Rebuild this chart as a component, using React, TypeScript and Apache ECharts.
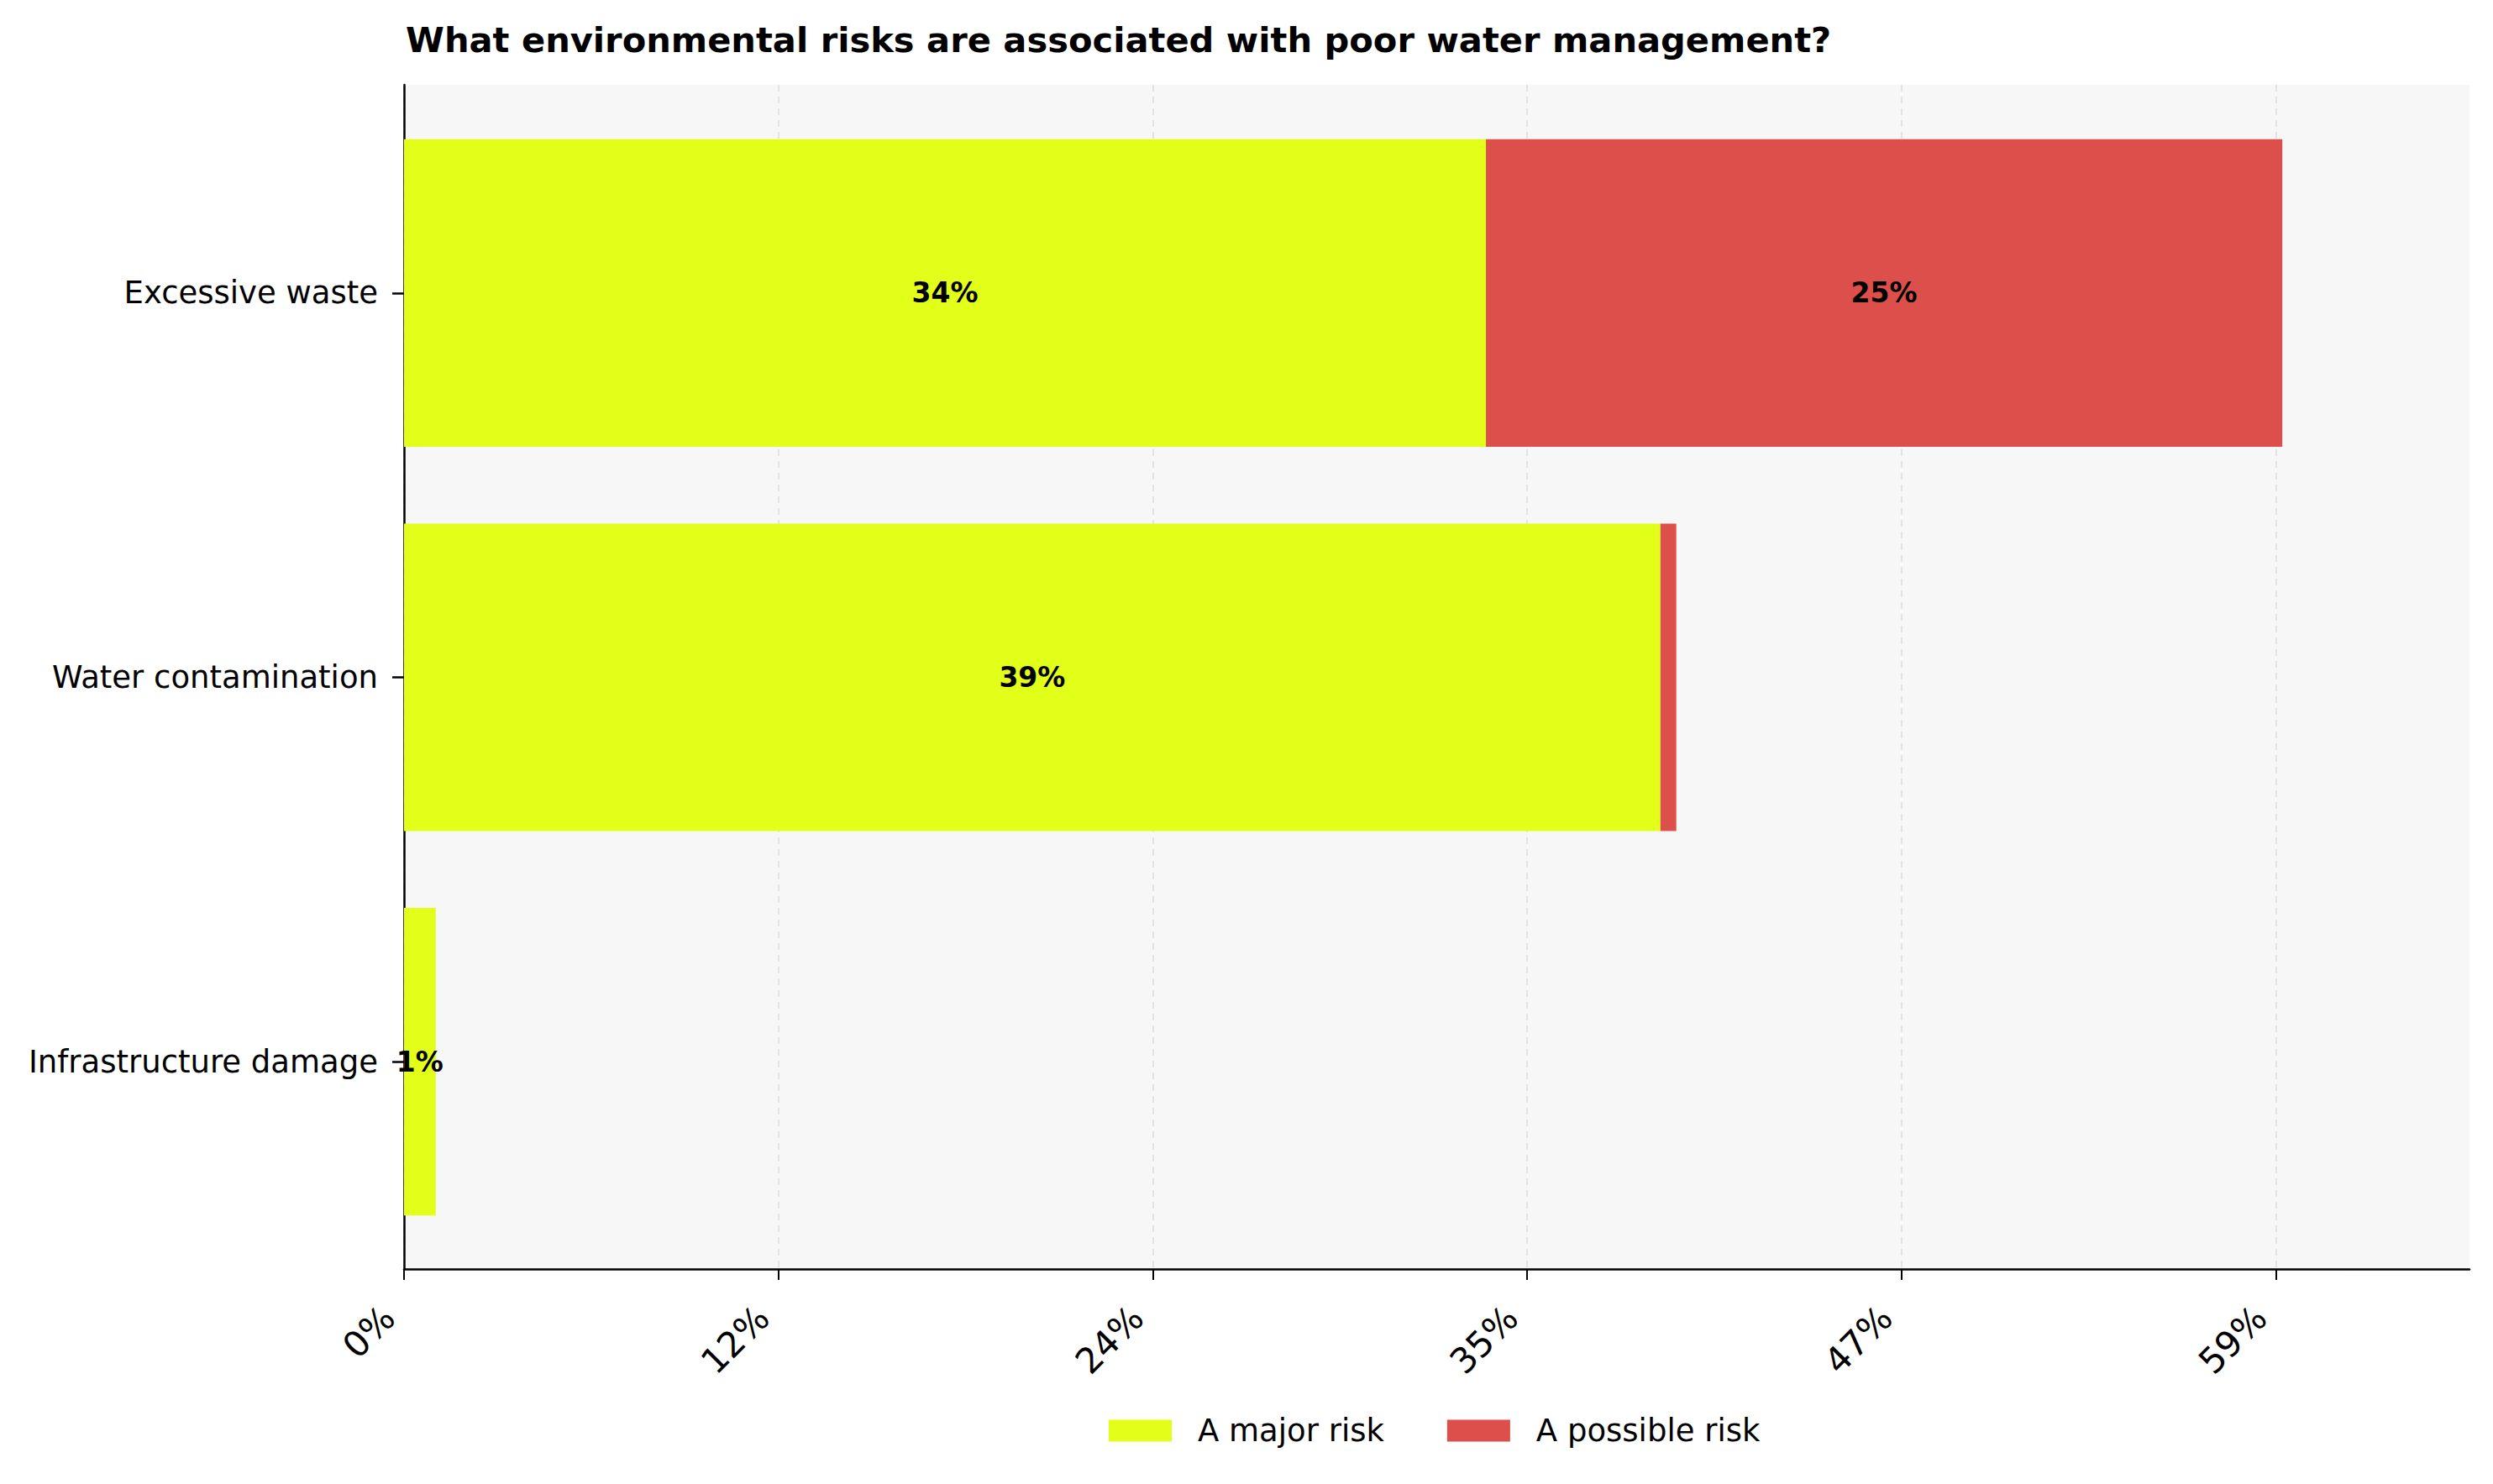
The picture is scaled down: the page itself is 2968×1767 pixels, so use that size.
import React, { useEffect, useRef } from "react";
import * as echarts from "echarts";

const categories = ["Excessive waste", "Water contamination", "Infrastructure damage"];
const majorRisk = [34.1, 39.6, 1.0];
const possibleRisk = [25.1, 0.5, 0];
const tickValues = [0, 11.8, 23.6, 35.4, 47.2, 59];
const axisMax = 65.1;
const seriesNames = ["A major risk", "A possible risk"];
const titleText = "What environmental risks are associated with poor water management?";

const FONT = "DejaVu Sans";
const W = 2968;
const H = 1767;

export default function App() {
  const ref = useRef<HTMLDivElement>(null);
  useEffect(() => {
    if (!ref.current) return;
    const chart = echarts.init(ref.current, undefined, { renderer: "svg", width: W, height: H });
    const barLabel = {
      show: true,
      position: "inside",
      fontFamily: FONT,
      fontSize: 33,
      fontWeight: "bold",
      color: "#000",
      formatter: (p: any) => (p.value >= 1 ? Math.floor(p.value) + "%" : ""),
    };
    const option: any = {
      animation: false,
      backgroundColor: "#ffffff",
      textStyle: { fontFamily: FONT },
      title: {
        text: titleText,
        left: 478,
        top: 21,
        textStyle: { fontFamily: FONT, fontSize: 41.6, fontWeight: "bold", color: "#000" },
      },
      legend: {
        left: 1315,
        top: 1680,
        icon: "rect",
        itemWidth: 75,
        itemHeight: 26,
        itemGap: 75,
        data: seriesNames,
        textStyle: { fontFamily: FONT, fontSize: 37, color: "#000", padding: [0, 0, 0, 26] },
      },
      grid: [
        { left: 481, right: 28, top: 101, bottom: 256, show: true, backgroundColor: "#f7f7f7", borderWidth: 0, containLabel: false },
        { left: 481, right: 28, top: 120, bottom: 274, show: false, containLabel: false },
      ],
      xAxis: [
        {
          type: "value",
          gridIndex: 0,
          min: 0,
          max: axisMax,
          interval: 11.8,
          axisLine: { show: true, onZero: false, lineStyle: { color: "#000", width: 2.5 } },
          axisTick: { show: true, length: 13, customValues: tickValues, lineStyle: { color: "#000", width: 2 } },
          axisLabel: {
            show: true,
            customValues: tickValues,
            rotate: 45,
            margin: 33,
            padding: [0, 26, 0, 0],
            fontFamily: FONT,
            fontSize: 42,
            color: "#000",
            formatter: (v: number) => (v > 60 ? "" : Math.round(v) + "%"),
          },
          splitLine: {
            show: true,
            lineStyle: {
              color: ["#dddddd", "#dddddd", "#dddddd", "#dddddd", "#dddddd", "#dddddd", "rgba(0,0,0,0)"],
              width: 1.5,
              type: [8, 6],
            },
          },
        },
        {
          type: "value",
          gridIndex: 1,
          min: 0,
          max: axisMax,
          show: false,
          splitLine: { show: false },
        },
      ],
      yAxis: [
        {
          type: "value",
          gridIndex: 0,
          min: 0,
          max: 1,
          axisLine: { show: true, onZero: false, lineStyle: { color: "#000", width: 2.5 } },
          axisTick: { show: false },
          axisLabel: { show: false },
          splitLine: { show: false },
        },
        {
          type: "category",
          gridIndex: 1,
          inverse: true,
          data: categories,
          axisLine: { show: false },
          axisTick: { show: true, alignWithLabel: true, length: 14, lineStyle: { color: "#000", width: 2.5 } },
          axisLabel: { margin: 31, fontFamily: FONT, fontSize: 37, color: "#000" },
          splitLine: { show: false },
        },
      ],
      series: [
        {
          name: seriesNames[0],
          type: "bar",
          xAxisIndex: 1,
          yAxisIndex: 1,
          stack: "total",
          barWidth: "80%",
          itemStyle: { color: "#e2ff1a" },
          label: barLabel,
          data: majorRisk,
        },
        {
          name: seriesNames[1],
          type: "bar",
          xAxisIndex: 1,
          yAxisIndex: 1,
          stack: "total",
          barWidth: "80%",
          itemStyle: { color: "#dd4f4a" },
          label: barLabel,
          data: possibleRisk,
        },
      ],
    };
    chart.setOption(option);
    return () => chart.dispose();
  }, []);
  return <div ref={ref} style={{ position: "fixed", left: 0, top: 0, width: W, height: H }} />;
}
